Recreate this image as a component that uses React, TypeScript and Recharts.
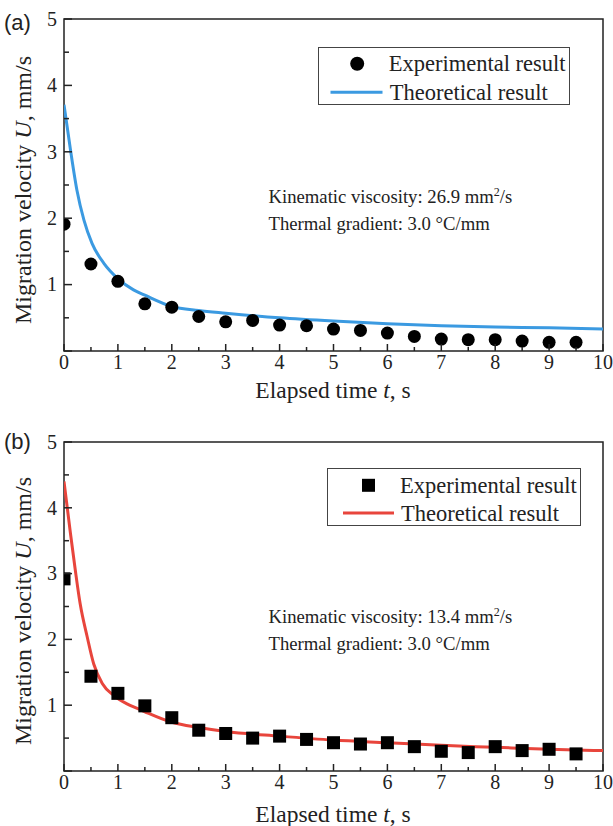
import React from "react";
import {
  ComposedChart,
  XAxis,
  YAxis,
  Line,
  Scatter,
  ReferenceArea,
  Legend,
  Customized,
} from "recharts";

// ---------- data ----------
const expTimes = [0, 0.5, 1, 1.5, 2, 2.5, 3, 3.5, 4, 4.5, 5, 5.5, 6, 6.5, 7, 7.5, 8, 8.5, 9, 9.5];
const expA = [1.91, 1.31, 1.05, 0.71, 0.66, 0.52, 0.44, 0.46, 0.39, 0.38, 0.33, 0.31, 0.27, 0.22, 0.18, 0.17, 0.17, 0.15, 0.13, 0.13];
const expB = [2.92, 1.44, 1.18, 0.99, 0.81, 0.62, 0.57, 0.5, 0.53, 0.48, 0.43, 0.41, 0.43, 0.37, 0.3, 0.28, 0.37, 0.31, 0.33, 0.26];

const theoTimesA = [0, 0.12, 0.24, 0.37, 0.52, 0.74, 1, 1.29, 1.5, 2, 2.5, 3, 4, 5, 6, 7, 8, 9, 10];
const theoA = [3.71, 3.03, 2.42, 1.97, 1.62, 1.32, 1.09, 0.92, 0.84, 0.67, 0.61, 0.57, 0.5, 0.45, 0.41, 0.38, 0.36, 0.35, 0.33];

const theoTimesB = [0, 0.12, 0.21, 0.3, 0.43, 0.55, 0.71, 0.92, 1.17, 1.36, 1.5, 2, 2.5, 3, 4, 5, 6, 7, 8, 9, 10];
const theoB = [4.4, 3.61, 3.05, 2.54, 2.04, 1.63, 1.33, 1.15, 1.02, 0.95, 0.9, 0.74, 0.66, 0.6, 0.53, 0.47, 0.43, 0.39, 0.36, 0.33, 0.31];

const xTicks = [0, 0.5, 1, 1.5, 2, 2.5, 3, 3.5, 4, 4.5, 5, 5.5, 6, 6.5, 7, 7.5, 8, 8.5, 9, 9.5, 10];
const yTicks = [0, 0.5, 1, 1.5, 2, 2.5, 3, 3.5, 4, 4.5, 5];

const legendLabels = ["Experimental result", "Theoretical result"];
const panelLabels = ["(a)", "(b)"];
const viscosities = ["26.9", "13.4"];

const BLUE = "#3b9ae1";
const RED = "#e8453c";
const SERIF = "'Liberation Serif', 'Times New Roman', serif";
const SANS = "'Liberation Sans', Arial, sans-serif";

const zip = (ts: number[], us: number[]) => ts.map((t, i) => ({ t, u: us[i] }));

const XTick = (props: any) => {
  const { x, y, payload } = props;
  const v = payload.value;
  const major = Number.isInteger(v);
  return (
    <g>
      <line x1={x} x2={x} y1={y} y2={y - (major ? 7 : 4)} stroke="#222" strokeWidth={1.5} />
      {major && (
        <text x={x} y={y + 18} textAnchor="middle" fontFamily={SERIF} fontSize={20} fill="#222">
          {v}
        </text>
      )}
    </g>
  );
};

const YTick = (props: any) => {
  const { x, y, payload } = props;
  const v = payload.value;
  const major = Number.isInteger(v);
  return (
    <g>
      <line x1={x} x2={x + (major ? 8 : 5)} y1={y} y2={y} stroke="#222" strokeWidth={1.5} />
      {major && v > 0 && (
        <text x={x - 7} y={y} dy="0.34em" textAnchor="end" fontFamily={SERIF} fontSize={20} fill="#222">
          {v}
        </text>
      )}
    </g>
  );
};

const CircleDot = (props: any) => <circle cx={props.cx} cy={props.cy} r={6.5} fill="#000" />;
const SquareDot = (props: any) => (
  <rect x={props.cx - 6.5} y={props.cy - 6.5} width={13} height={13} fill="#000" />
);

type PanelProps = {
  idx: number;
  exp: { t: number; u: number }[];
  theo: { t: number; u: number }[];
  color: string;
  square: boolean;
  top: number;
  xAxisHeight: number;
  legendPos: { left: number; top: number; width: number };
  legendGeom: { marker: [number, number]; line: [number, number, number]; textX: number };
  labelY: number;
  annoY: number;
  xLabelY: number;
  yLabelY: number;
};

const Panel = (p: PanelProps) => {
  const LegendBox = () => (
    <svg width={p.legendPos.width} height={58} style={{ display: "block" }}>
      <rect x={0.5} y={0.5} width={p.legendPos.width - 1} height={57} fill="#fff" stroke="#444" strokeWidth={1} />
      {p.square ? (
        <rect x={p.legendGeom.marker[0] - 6.5} y={p.legendGeom.marker[1] - 6.5} width={13} height={13} fill="#000" />
      ) : (
        <circle cx={p.legendGeom.marker[0]} cy={p.legendGeom.marker[1]} r={7} fill="#000" />
      )}
      <text x={p.legendGeom.textX} y={p.legendGeom.marker[1] + 7.5} fontFamily={SERIF} fontSize={22.5} fill="#222">
        {legendLabels[0]}
      </text>
      <line
        x1={p.legendGeom.line[0]}
        x2={p.legendGeom.line[1]}
        y1={p.legendGeom.line[2]}
        y2={p.legendGeom.line[2]}
        stroke={p.color}
        strokeWidth={3}
      />
      <text x={p.legendGeom.textX + 1} y={p.legendGeom.line[2] + 7.5} fontFamily={SERIF} fontSize={22.5} fill="#222">
        {legendLabels[1]}
      </text>
    </svg>
  );

  const Overlay = () => (
    <g>
      <text x={4} y={p.labelY} fontFamily={SANS} fontSize={22} fill="#222">
        {panelLabels[p.idx]}
      </text>
      <text
        transform={`translate(31, ${p.yLabelY}) rotate(-90)`}
        textAnchor="middle"
        fontFamily={SERIF}
        fontSize={24}
        fill="#222"
      >
        Migration velocity <tspan fontStyle="italic">U</tspan>, mm/s
      </text>
      <text x={333} y={p.xLabelY} textAnchor="middle" fontFamily={SERIF} fontSize={23.5} fill="#222">
        Elapsed time <tspan fontStyle="italic">t</tspan>, s
      </text>
      <text x={268.5} y={p.annoY} fontFamily={SERIF} fontSize={18.7} fill="#222">
        Kinematic viscosity: {viscosities[p.idx]} mm
        <tspan dy={-7} fontSize={12}>
          2
        </tspan>
        <tspan dy={7}>/s</tspan>
      </text>
      <text x={268.5} y={p.annoY + 26.7} fontFamily={SERIF} fontSize={18.7} fill="#222">
        Thermal gradient: 3.0 °C/mm
      </text>
    </g>
  );

  return (
    <ComposedChart
      width={613}
      height={413}
      margin={{ top: p.top, right: 10, left: 0, bottom: 0 }}
    >
      <XAxis
        type="number"
        dataKey="t"
        domain={[0, 10]}
        ticks={xTicks}
        interval={0}
        allowDataOverflow
        height={p.xAxisHeight}
        axisLine={false}
        tickLine={false}
        tickSize={0}
        tickMargin={0}
        tick={<XTick />}
      />
      <YAxis
        type="number"
        dataKey="u"
        domain={[0, 5]}
        ticks={yTicks}
        interval={0}
        allowDataOverflow
        width={64}
        axisLine={false}
        tickLine={false}
        tickSize={0}
        tickMargin={0}
        tick={<YTick />}
      />
      <ReferenceArea x1={0} x2={10} y1={0} y2={5} fill="none" fillOpacity={0} stroke="#222" strokeWidth={1.5} ifOverflow="visible" />
      <Scatter
        data={p.exp}
        dataKey="u"
        fill="#000"
        shape={p.square ? <SquareDot /> : <CircleDot />}
        isAnimationActive={false}
      />
      <Line
        data={p.theo}
        dataKey="u"
        type="monotone"
        stroke={p.color}
        strokeWidth={3}
        dot={false}
        activeDot={false}
        isAnimationActive={false}
      />
      <Legend
        layout="horizontal"
        verticalAlign="middle"
        align="center"
        content={() => <LegendBox />}
        wrapperStyle={{ left: p.legendPos.left, top: p.legendPos.top, width: p.legendPos.width, height: 58 }}
      />
      <Customized component={<Overlay />} />
    </ComposedChart>
  );
};

export default function App() {
  return (
    <div style={{ position: "absolute", left: 0, top: 0, width: 613, height: 826, background: "#fff" }}>
      <Panel
        idx={0}
        exp={zip(expTimes, expA)}
        theo={zip(theoTimesA, theoA)}
        color={BLUE}
        square={false}
        top={19}
        xAxisHeight={62}
        legendPos={{ left: 317.5, top: 46.5, width: 252 }}
        legendGeom={{ marker: [39.2, 16.8], line: [12.5, 64.5, 45.2], textX: 70.8 }}
        labelY={30}
        annoY={203.3}
        xLabelY={398.3}
        yLabelY={190}
      />
      <Panel
        idx={1}
        exp={zip(expTimes, expB)}
        theo={zip(theoTimesB, theoB)}
        color={RED}
        square={true}
        top={29}
        xAxisHeight={55}
        legendPos={{ left: 327, top: 54.7, width: 254 }}
        legendGeom={{ marker: [41.5, 17.3], line: [16, 67, 45], textX: 73 }}
        labelY={36}
        annoY={210.3}
        xLabelY={409}
        yLabelY={198}
      />
    </div>
  );
}
